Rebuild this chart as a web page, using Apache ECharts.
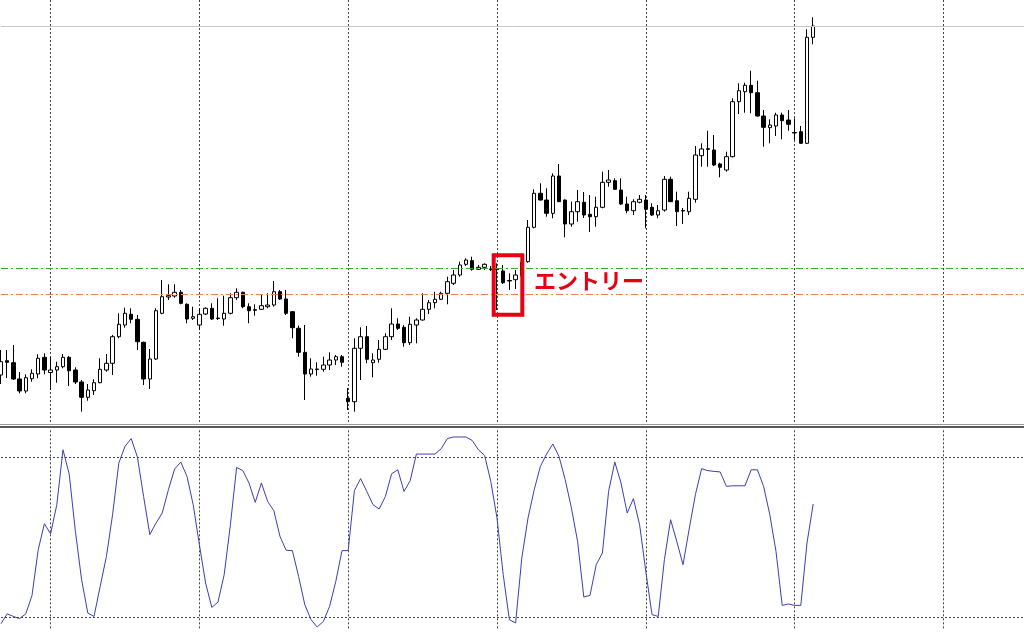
<!DOCTYPE html>
<html>
<head>
<meta charset="utf-8">
<script src="https://cdn.jsdelivr.net/npm/echarts@6/dist/echarts.min.js"></script>
<style>
html,body{margin:0;padding:0;background:#fff;}
#c{width:1024px;height:636px;}
</style>
</head>
<body>
<div id="c"></div>
<script>
// ---- data ----
const openP = [101.250,101.393,101.373,101.210,101.090,101.213,101.260,101.427,101.275,101.300,101.333,101.427,101.300,101.180,101.027,101.093,101.173,101.300,101.367,101.633,101.750,101.857,101.807,101.577,101.210,101.410,101.867,102.030,102.040,102.077,101.957,101.817,101.750,101.860,101.917,101.820,101.810,101.867,102.023,102.077,101.933,101.903,101.907,101.933,101.950,102.083,102.010,101.883,101.717,101.477,101.260,101.310,101.307,101.350,101.400,101.433,101.017,100.983,101.517,101.633,101.373,101.407,101.507,101.633,101.760,101.727,101.573,101.750,101.800,101.907,101.973,102.007,102.067,102.167,102.250,102.357,102.393,102.307,102.327,102.310,102.310,102.290,102.195,102.203,102.240,102.383,102.727,103.067,103.000,102.867,103.240,103.000,102.760,102.883,102.977,102.857,102.833,102.927,103.177,103.193,103.100,102.960,102.893,102.977,103.000,102.927,102.850,102.900,103.207,102.993,102.895,102.883,103.007,103.443,103.513,103.500,103.360,103.300,103.433,103.983,104.083,104.147,104.073,103.840,103.723,103.740,103.850,103.800,103.675,103.683,103.567,104.627];
const closeP = [101.383,101.377,101.210,101.090,101.223,101.267,101.417,101.300,101.300,101.333,101.427,101.293,101.180,101.027,101.100,101.173,101.307,101.367,101.633,101.757,101.867,101.807,101.583,101.210,101.410,101.893,102.033,102.043,102.077,101.967,101.810,101.833,101.857,101.917,101.810,101.815,101.867,102.023,102.077,101.933,101.893,101.897,101.943,101.950,102.083,102.010,101.867,101.723,101.477,101.260,101.310,101.304,101.350,101.400,101.433,101.377,100.983,101.517,101.633,101.407,101.400,101.507,101.633,101.760,101.717,101.573,101.757,101.800,101.907,101.973,102.007,102.067,102.183,102.250,102.350,102.400,102.307,102.327,102.357,102.305,102.304,102.173,102.190,102.250,102.380,102.727,103.067,103.000,102.867,103.240,102.983,102.760,102.883,102.983,102.850,102.833,102.927,103.177,103.200,103.107,102.960,102.893,102.983,103.007,102.907,102.850,102.893,103.207,102.983,102.883,102.890,103.017,103.450,103.510,103.507,103.350,103.327,103.433,103.983,104.093,104.147,104.073,103.840,103.727,103.750,103.850,103.793,103.757,103.670,103.567,104.627,104.740];
const highP = [101.500,101.500,101.550,101.280,101.257,101.307,101.457,101.467,101.430,101.383,101.460,101.440,101.327,101.200,101.160,101.207,101.417,101.460,101.650,101.867,101.923,101.917,101.850,101.583,101.510,101.917,102.200,102.157,102.157,102.100,101.967,101.933,101.917,101.927,101.967,102.017,102.043,102.067,102.117,102.083,101.967,101.957,102.057,102.067,102.190,102.100,102.100,101.890,101.743,101.750,101.417,101.377,101.433,101.477,101.450,101.450,101.120,101.617,101.727,101.740,101.467,101.600,101.667,101.917,101.817,101.750,101.833,101.817,102.067,102.000,102.083,102.083,102.233,102.300,102.383,102.417,102.433,102.350,102.367,102.340,102.367,102.350,102.267,102.300,102.383,102.800,103.107,103.167,103.117,103.267,103.360,103.005,102.983,103.100,103.080,103.050,103.033,103.283,103.300,103.217,103.217,103.033,103.007,103.050,103.050,102.967,102.950,103.240,103.233,103.083,102.920,103.083,103.540,103.567,103.693,103.650,103.373,103.483,104.017,104.167,104.173,104.293,104.193,103.900,103.807,103.873,103.873,103.900,103.817,103.740,104.707,104.827];
const lowP = [101.160,101.220,101.200,101.067,101.067,101.183,101.217,101.257,101.100,101.173,101.317,101.140,101.160,100.883,100.993,101.050,101.167,101.283,101.250,101.617,101.723,101.767,101.500,101.150,101.110,101.400,101.857,102.000,102.023,101.957,101.767,101.800,101.700,101.850,101.800,101.800,101.743,101.857,102.000,101.917,101.767,101.843,101.900,101.917,101.933,102.000,101.850,101.617,101.433,101.000,101.233,101.243,101.283,101.300,101.350,101.333,100.900,100.883,101.200,101.367,101.227,101.373,101.500,101.600,101.700,101.533,101.550,101.567,101.795,101.860,101.917,102.000,101.957,102.150,102.233,102.340,102.293,102.300,102.300,102.290,101.900,102.160,102.100,102.110,102.230,102.373,102.717,102.995,102.833,102.817,102.980,102.627,102.733,102.783,102.820,102.680,102.733,102.917,103.133,103.100,102.950,102.867,102.850,102.967,102.717,102.840,102.817,102.883,102.980,102.740,102.760,102.850,102.973,103.333,103.333,103.340,103.227,103.283,103.427,103.860,103.873,103.867,103.833,103.533,103.567,103.640,103.607,103.693,103.600,103.560,103.560,104.557];
const oscP = [17.5,21.2,20.2,19.4,21.2,28.1,45.2,55,51.2,62.1,82.7,73.6,52.1,34,21.5,20.2,31.5,42.7,58.4,77.7,84,86.9,80,65.2,50.9,55.2,59,67.7,75.5,78.1,72.7,62.1,47.1,32.75,23.6,25.6,35.9,54.6,76.1,74.9,70.25,63,70.25,63.35,59.9,50.2,45,44.9,35.2,24.6,19,16.25,18.35,24,33.35,44.9,44.9,67.4,71.9,67.1,62.1,60.5,65.2,73.7,75.2,67.1,71.1,81.1,81.1,81.1,81.1,83.1,86.9,87.5,87.5,87.5,86.2,82.7,80.6,70.85,57.1,35.9,19,17.75,42.1,57.1,67.7,76.5,81.1,84.9,80.2,71.5,60.9,48.35,27.5,28.1,39.6,44,67.1,78.1,70.25,59,64.4,54.6,37.1,20.9,20.2,41.5,56.5,48.35,39.6,53,65.9,75.6,74.9,74.6,74.4,69,69.2,69.2,69.2,75.2,75.2,69,58.4,44.6,24.35,24.9,24.35,24.35,47.75,62.4];
const entryLine = 102.32;   // green dash-dot
const stopLine = 102.06;    // orange dash-dot
const oscLevels = [80, 20];
const slotCount = 166;
const annotationText = 'エントリー';

// ---- build ----
const cats = [];
for (let i = 0; i < slotCount; i++) cats.push(String(i));
const candles = openP.map((o, i) => [o, closeP[i], lowP[i], highP[i]]);
const lastClose = closeP[closeP.length - 1];

const gridLineStyle = { color: '#444', width: 1, type: [2, 2] };
const gridInterval = (idx) => idx % 24 === 8;

const chart = echarts.init(document.getElementById('c'), null, { renderer: 'canvas' });
chart.setOption({
  animation: false,
  backgroundColor: '#ffffff',
  grid: [
    { left: 1, right: 0, top: 0, height: 424 },
    { left: 1, right: 0, top: 430.33, bottom: 5.67 }
  ],
  xAxis: [0, 1].map(g => ({
    type: 'category', gridIndex: g, data: cats, boundaryGap: false,
    axisLine: { show: false }, axisTick: { show: false }, axisLabel: { show: false },
    splitLine: { show: true, interval: gridInterval, lineStyle: gridLineStyle }
  })),
  yAxis: [
    { type: 'value', gridIndex: 0, min: 100.76, max: 105, axisLine: { show: false }, axisTick: { show: false }, axisLabel: { show: false }, splitLine: { show: false } },
    { type: 'value', gridIndex: 1, min: 15, max: 90, axisLine: { show: false }, axisTick: { show: false }, axisLabel: { show: false }, splitLine: { show: false } }
  ],
  series: [
    {
      type: 'candlestick', xAxisIndex: 0, yAxisIndex: 0, data: candles, barWidth: 4,
      itemStyle: { color: '#ffffff', color0: '#000000', borderColor: '#000000', borderColor0: '#000000', borderWidth: 1 },
      markLine: {
        silent: true, symbol: 'none', label: { show: false },
        data: [
          { yAxis: lastClose, lineStyle: { color: '#c8c8c8', width: 1, type: 'solid' } },
          { yAxis: entryLine, lineStyle: { color: '#3aa835', width: 1, type: [7, 3, 2, 3] } },
          { yAxis: stopLine, lineStyle: { color: '#f47c4c', width: 1, type: [7, 3, 2, 3] } }
        ]
      }
    },
    {
      type: 'line', xAxisIndex: 1, yAxisIndex: 1, data: oscP, symbol: 'none',
      lineStyle: { color: '#3b3fb0', width: 1 },
      markLine: {
        silent: true, symbol: 'none', label: { show: false },
        lineStyle: gridLineStyle,
        data: oscLevels.map(v => ({ yAxis: v }))
      }
    }
  ],
  graphic: [
    { type: 'rect', shape: { x: 0, y: 424, width: 1024, height: 1 }, style: { fill: '#9a9a9a' } },
    { type: 'rect', shape: { x: 0, y: 426, width: 1024, height: 2 }, style: { fill: '#5a5a5a' } },
    { type: 'rect', z: 100, shape: { x: 493.7, y: 255.3, width: 28.6, height: 59.4 }, style: { fill: 'none', stroke: '#e60012', lineWidth: 4 } },
    { type: 'text', z: 100, x: 534, y: 281, style: { text: annotationText, fill: '#e60012', font: 'bold 22px "Noto Sans CJK JP"', textVerticalAlign: 'middle' } }
  ]
});
</script>
</body>
</html>
